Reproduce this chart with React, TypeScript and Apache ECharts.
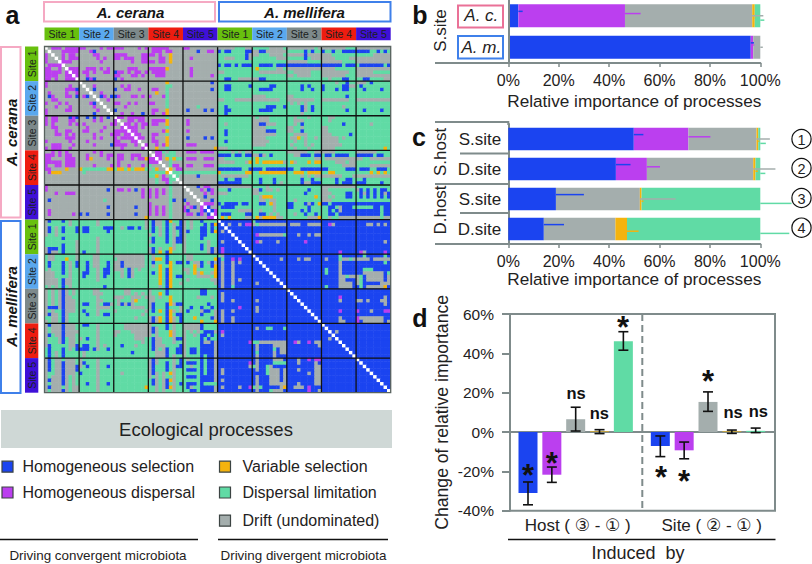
import React, { useEffect, useRef } from "react";
import * as echarts from "echarts";

const FONT = '"Liberation Sans", Arial, sans-serif';
const INK = "#1f2222";
const AXIS = "#7f8b8b";
const SELECTION = "#1b44f0";
const DISPERSAL = "#bb3fef";
const DRIFT = "#a4aead";
const VARIABLE = "#f4b30e";
const LIMITATION = "#60dba5";
const processColors = [SELECTION, DISPERSAL, DRIFT, VARIABLE, LIMITATION];

const speciesNames = ["A. cerana", "A. mellifera"];
const siteNames = ["Site 1", "Site 2", "Site 3", "Site 4", "Site 5"];
const siteColors = ["#68c00e", "#5aa8ee", "#7d898b", "#ee1c10", "#3f10d8"];

// a: pairs inside A. cerana (upper triangle, chunks of ten cells)
const ceranaRows = [
  ".dpppdpppp ppddddpdpp pppddddpdp dpppppdddd ppdddddddd",
  "..dddppppp dddpbddddd dddddddddd dpppdppddd ddddbddppd",
  "...ddpdppd ddddppdddd ppppddddpp ppdpddvddd dddddddddd",
  "....dpdppp dddddpdpdd ppdpppddpp dddppdvddd ddpddddddd",
  ".....pppdd ddddddpddd dddddpddpp ppdppdvddd dddddddddd",
  "......dddd dddddddddd dddddddddd dddddddddd dddddddddd",
  ".......ppp ddpppdpdpd ddddpppddd pppppvdddd ddpddddddd",
  "........pp dppdpddppd bppdpdppdp dppppddddd ddpddddddd",
  ".........p ddpddddddd ppdddppdpd ddpppddddd ddpdddddpd",
  ".......... ddbpbddddd bdpddddddd dddddddddd dddddddddd",
  ".......... .ddddddddd dddddddddd dddddvdddd ddddddddbd",
  ".......... ..ddpddddd ddpdpddddd dddddggddd dddddddddd",
  ".......... ...dbddddd bddppddpdd dppddgdddd ddddddddbd",
  ".......... ....ddpddd dddddddddd ddvddgdddd dddddddddd",
  ".......... .....dbpdb bpdddppdpd pdddpgdddd dddddddddd",
  ".......... ......ddpd dddddddddd dddddgdddd dddddddddd",
  ".......... .......ddd ppddpdpddd ppdddgdddd dddddddddd",
  ".......... ........dd dddpdddddd dddddgdddd ddddgddddd",
  ".......... .........d bddddddddd dppddvdddd dbddddbdbd",
  ".......... .......... ddpddpddbd dpddpvdddd dddddddddd",
  ".......... .......... .ppdpppppd dddddgdddd dddddddddd",
  ".......... .......... ..ddppdppd dppppvdddd dpdddddddd",
  ".......... .......... ...ppdpdpp dppddvdddd dpdddddddd",
  ".......... .......... ....pppdpd dddddgdddd dddddddddd",
  ".......... .......... .....ppddd ddddpvdddd dpdddddddd",
  ".......... .......... ......ppdd dppddgdddd dddddddddd",
  ".......... .......... .......ppd dpdddvdddd dbddddbdbd",
  ".......... .......... ........dd dppddvdddd dddddddddd",
  ".......... .......... .........p ddpdpvdddd dpppdddddd",
  ".......... .......... .......... ddvddgdddd dddddddddv",
  ".......... .......... .......... .dppgdggdd dpppdppppd",
  ".......... .......... .......... ..ppdgggdd dddddddddd",
  ".......... .......... .......... ...pdvgvgg dpppddpppd",
  ".......... .......... .......... ....ddgddd dddddddddd",
  ".......... .......... .......... .....dgppd dppdddpppd",
  ".......... .......... .......... ......vdpp dddddddddd",
  ".......... .......... .......... .......ggg gggggggggg",
  ".......... .......... .......... ........gd ddddbddddd",
  ".......... .......... .......... .........d dddddddddd",
  ".......... .......... .......... .......... dddddddddd",
  ".......... .......... .......... .......... .dddbdppdd",
  ".......... .......... .......... .......... ..dddpdbpd",
  ".......... .......... .......... .......... ...dddpdpd",
  ".......... .......... .......... .......... ....ddbddd",
  ".......... .......... .......... .......... .....dddbd",
  ".......... .......... .......... .......... ......pppd",
  ".......... .......... .......... .......... .......bdd",
  ".......... .......... .......... .......... ........bp",
  ".......... .......... .......... .......... .........p",
  ".......... .......... .......... .......... ..........",
];

// a: pairs between A. cerana (rows) and A. mellifera (columns)
const crossRows = [
  "dddddgggdd gggggddddg ddddddddgd dddddddggg dddddddddd",
  "bgbbggggbb ddbbdddddd gggggbgbgg bggbggbbbb bbbbggbgbg",
  "ggggggggbd ddgggddddg dddddbdddd dddggggggg gggggddddd",
  "ggdddgggbd gggggggddd gggggbgddd ddddggggdd dddddddddd",
  "gggggggggg gggggggggg ddddddgggg ddddddgggg dddddddddd",
  "bgbbgbgbbb ggbbbbgbbb bbbbbbbbbb bbbbbbgbbb gbbbbbbbgb",
  "gggggggggg gvgggggddg dddddddddd ddddgggggg dddddddddd",
  "ddgggggggg ggdddddddd ggdddddggg ddddddddgg dddddggggg",
  "gggggggggg gggggggggg ddgddddggg dddddddggg dddddddddd",
  "ggbbggdddd ddbbgggggg gggggggggg ggdgggbbgg ggbbggggdd",
  "gggggggggg gggggggggg gggggggggg ggggdggbgg dddgbggggg",
  "ggbbgggggb gggggbbggg ggggbgbggg bgggggbbdd gbgggggggg",
  "ggbbgggggg ggbbbbgggg ggggbggbgg bgggbgbbgg ggbggggbgg",
  "gggggggggg gggggggggg gggggggggg gggggggggg gggggggggg",
  "gggggggggg ddddgggggg ddgggggggg gggggggbgg gggggggggg",
  "ddgggddddd ddddddddgg ddddddddgg ddddddddgg dddddddddd",
  "gggggggggg gggggggggg gdgdgdgggg gggggggggg gggggggggg",
  "ggbggggggg ggggbbbggb ggggbdgbgg ggggggdggg gggggggggg",
  "ggbbgggggg ggbbbbgggg ggggbdgbgg gggggggbgg ggbggggbgg",
  "ggbggggggg gggggggggg ggggdggggg gggggggggg gggggggggg",
  "gggggggggg dgdddggggg ggdgggdggg ggddgggggg gggggggggg",
  "gggggggggg dddddggggg ggdddggggg ggdggggggg gggggggggg",
  "ggdggggggg ddbbdddggg ggdgbggggg ggggggbggg ggggdggggg",
  "gggggggggg ddddgggggg ddggdggggg ddgggggggg gggggggggg",
  "ggbggggggg ddddbbbggg ddggbggggg ddgggggggg gggggggggg",
  "ggbggggggg dddddddggg ggddddgggg dddgggggbg gggggggggg",
  "gggggggggg ddddgggggg gddvgdggdg dddddgdggg gggggggggg",
  "ggbggggggg dddddggggg ggdggdgggg dddddggggg gggggggggg",
  "gggggggggg ddddgggggg gdgggdgdgg ddddddgggg gggggggggg",
  "dddggggggg gggggggggg ggdgggdggg ddddgggggg ggggggggvg",
  "ggggdgdgdd gggggggggg ddddddggdd ddddgggggg ddddddgggg",
  "bbbbgbbgbb ddbdgbgggg ggddbbbgbb gbbgbbbbgg bbbbbgbbgg",
  "ddgggggggg gvgggggggg ggggggggdd gddddddddd ddggdddddd",
  "dddddgggdv gvgvvvvvvd gvdgggvgvv ggggdddgdd gggggggggg",
  "gggggggggg gggggggggg gggggggggg ggggggdddd ggggdddddd",
  "bbbbbbbggb bbbgbbbbbb bbggbbbbbb bbgggggbbb gbbbggbbbg",
  "vgggggggvv ggvvvvvvvv ggvvvgvvvv ggvvgggggg ggggvgvgvg",
  "gddddddddg gggggggggg ggggdgdgdd ddddddgggd dddddddddd",
  "ggbggbbggg ggbgggbggg ggggbggbgg ggggbggbbg ggbggggggg",
  "bbbbbbbggg ggbgggbgdg ggggbddbbb ggggbgbbbg bbbggggbgg",
  "dddddddddd ggggdggggg gggggggggg dddddddddd gggggggggg",
  "gggbgggggg ddbgddgdgg ggggggbggg ddgggggggg dbgbgbgbbg",
  "dddggggggg ddgggggggg gggggbgggg dddggggbbg gbdbgbgbdb",
  "gggggggggg ggdvvvgggg ggggggggvg ddgdgggbbg gbgbgbgbgb",
  "gggggggggg ggddgddggg ggdggggggg dddggggggg gggggggggg",
  "bgbbbbgbbg ggbbgvdggg bbgggbdbgv bbgbbbbbbb bbbbbbbbbb",
  "gbbbbggggg ggggggdggg bbggggbggg ggbbgdbbbg gggggbbgbb",
  "ggggggdddd ggdgggdggg ggggbgbggg ggbgbdbbbb bbbbbbbgbb",
  "gbbbggggbb ggbbgdgdgg ggdggbggbg ggbbgbbbbb bbbbbbbgbb",
  "gvgvggggdd gvdvvvvddg ggggggdddv ggdggddddd dddddddgdd",
];

// a: pairs inside A. mellifera (upper triangle)
const melliferaRows = [
  ".bbbbbbbbb gbbbbbbbbb bbbbbbbbbb bbbbbbbbbb bbbbbbbbbb",
  "..bdbbdbpp dgdddddddd bdddbbdddd bbpdbbbbbb bbbddbdbdb",
  "...bbbbbbb bbbbbbbbbb bbbbbbbbbb bbbbbbbbbb bbbbbbbbbb",
  "....bbbbbb bbbbbbbbbb bbbbbbbbbb bbbbbbbbbb bbbbbbbbbb",
  ".....bbbbb bpdddddddg bbbdbbdbdd bbbbbbbbbb bbbbbbbbbb",
  "......bbbb bbbbbbbbbb bbbbbbbbbb bbbbbbbbbb bbbbbbbbbb",
  ".......bbb bpdbbbbdbb bbbbbpbbbb bbbbbbbbbb bbbbbbbbdb",
  "........bb bbbbbbbbbb bbbbbbbbbb bbbbbbbbbb bbbbbbbbbb",
  ".........b bbbbbbbbbb bbbbbbbbbb bbbbbbbbbb bbbbbbbbbb",
  ".......... bbbbbbbbbb bbbbbbbbbb bbbbbpbbbb bpdbbbbbpb",
  ".......... .bbbbbbbbb bbbbbbbbbb bbbbbgbbbb bbgbbbbbgb",
  ".......... ..bbbbbbdb bbbdbddbbb bdbbbgddgd ddddbddddd",
  ".......... ...bbbbbbb bbbbbbbbbb bbbbbdbbbb bbbbbbbbgb",
  ".......... ....bbbbbb bbbbbbbbbb bbbbbdbbbb bbbbbbbbbb",
  ".......... .....bbbbb bbbbbbbbbb bgbbbdbbbb bbgggbbbbb",
  ".......... ......bbbb bbbbbbbbbb bgbbbdbbbb bbddddddbg",
  ".......... .......bbb bbbbbbbbbb bbbbbddgdd dgbdddddbd",
  ".......... ........bb bbbbbbbbbb bbbbbddbbb dgbdddddbd",
  ".......... .........b bbbbbbbbbb bbbbbddddb dgbbbbbddd",
  ".......... .......... bbbbbbbbbb bgbbbddddb bgbdddddvb",
  ".......... .......... .bbbbbbbbb bbbbbbbbbb bbbbbbbbbb",
  ".......... .......... ..bbbbbbbb bbbbbbbbbb bbbbbbbbbb",
  ".......... .......... ...bbbbbbb bbbbbpbbbb bbbbbbbbdb",
  ".......... .......... ....bbbbbb bbbbbdbbbb ddbdbbbddb",
  ".......... .......... .....bbbbb bbbbbbbbbb bbbbbbbbdb",
  ".......... .......... ......bbbb bbbbbbbbbb bbbbbbbbbb",
  ".......... .......... .......bbb bbbbbpbbbb pbbbdbbbpp",
  ".......... .......... ........bb bbbbbbbbbb bbbbbbbbbb",
  ".......... .......... .........b bbbbbdbbbb pdddddddbb",
  ".......... .......... .......... bbbbbddbbb pbddddddbd",
  ".......... .......... .......... .bbbbbbbbb bbbbbbbbbb",
  ".......... .......... .......... ..bbbbbbbb bbbbbbbbbb",
  ".......... .......... .......... ...bdbbbbb bbbbbbbbbb",
  ".......... .......... .......... ....bbbbbb bbbbbbbbbb",
  ".......... .......... .......... .....bbbbb bbbbbbbbbb",
  ".......... .......... .......... ......bbbb bbbbbbbbbb",
  ".......... .......... .......... .......bbb bbbbbbbbbb",
  ".......... .......... .......... ........bb bbbbbbbbbb",
  ".......... .......... .......... .........b bbbbbbbbbb",
  ".......... .......... .......... .......... bbbbbbbbbb",
  ".......... .......... .......... .......... .bbbbbbbbb",
  ".......... .......... .......... .......... ..bbbbbbbb",
  ".......... .......... .......... .......... ...bbbbbbb",
  ".......... .......... .......... .......... ....bbbbbb",
  ".......... .......... .......... .......... .....bbbbb",
  ".......... .......... .......... .......... ......bbbb",
  ".......... .......... .......... .......... .......bbb",
  ".......... .......... .......... .......... ........bb",
  ".......... .......... .......... .......... .........b",
  ".......... .......... .......... .......... ..........",
];

const cellCodes = ["b", "p", "v", "g", "d"];
const cellColors = [SELECTION, DISPERSAL, VARIABLE, LIMITATION, DRIFT, "#ffffff"];

// b
const bRows = ["A. c.", "A. m."];
const bSelection = [4, 96.2];
const bDispersal = [42.3, 1];
const bDrift = [50.5, 2.8];
const bVariable = [1, 0];
const bLimitation = [2.2, 0];
const bTips = [
  [5.7, 52.5, 101.2, 98, 101.6],
  [97.5, 97.6, 101, null, null],
];

// c
const cRows = ["S.site", "D.site", "S.site", "D.site"];
const cSelection = [49.8, 42.7, 18.9, 14.1];
const cDispersal = [21.7, 12.3, 0, 0];
const cDrift = [27, 42.2, 33.3, 28.4];
const cVariable = [0.7, 0.9, 0.7, 4.6];
const cLimitation = [0.8, 1.9, 47.1, 52.9];
const cTips = [
  [53.6, 80.2, 103.8, 99.6, 102.2],
  [48.5, 60.2, 106, 99, 102],
  [30, null, 66.4, 53.6, 112.4],
  [22.1, null, null, 51.7, 111.5],
];

// d
const hostChange = [-31, -21.7, 6.5, 0.3, 46.2];
const hostLow = [-37, -25.6, 0.5, -0.8, 41.6];
const hostHigh = [-25.4, -17.8, 12.6, 1.2, 51];
const siteChange = [-7.1, -9.3, 15.3, 0.3, 0.6];
const siteLow = [-12.5, -13.6, 10.5, -0.7, -0.3];
const siteHigh = [-2, -5.1, 20.4, 1, 2];

const legendLeft = ["Homogeneous selection", "Homogeneous dispersal"];
const legendRight = ["Variable selection", "Dispersal limitation", "Drift (undominated)"];
const percentTick = (v: number) => `${v}%`;

function buildCells() {
  const clean = (rows: string[]) => rows.map((r) => r.replace(/ /g, ""));
  const cc = clean(ceranaRows);
  const cm = clean(crossRows);
  const mm = clean(melliferaRows);
  const read = (r: number, c: number) => {
    if (r === c) return 5;
    const a = Math.min(r, c);
    const b = Math.max(r, c);
    let ch = "d";
    if (b < 50) ch = cc[a][b];
    else if (a < 50) ch = cm[a][b - 50];
    else ch = mm[a - 50][b - 50];
    return cellCodes.indexOf(ch);
  };
  const out: number[][] = [];
  for (let r = 0; r < 100; r++) for (let c = 0; c < 100; c++) out.push([c, r, read(r, c)]);
  return out;
}

function errorSeries(xi: number, yi: number, shares: number[][], tips: (number | null)[][]) {
  const data: number[][] = [];
  tips.forEach((row, r) => {
    let end = 0;
    row.forEach((tip, p) => {
      end += shares[p][r];
      if (tip !== null) data.push([end, tip, r, p]);
    });
  });
  return {
    type: "custom",
    xAxisIndex: xi,
    yAxisIndex: yi,
    silent: true,
    z: 5,
    clip: false,
    data,
    encode: { x: [0, 1], y: 2 },
    renderItem: (_: unknown, api: any) => {
      const a = api.coord([api.value(0), api.value(2)]);
      const b = api.coord([api.value(1), api.value(2)]);
      const p = api.value(3);
      const off = (p - 2) * 2.2;
      return {
        type: "line",
        shape: { x1: a[0], y1: a[1] + off, x2: b[0], y2: b[1] + off },
        style: { stroke: processColors[p], lineWidth: 1.5 },
      };
    },
  };
}

function whisker(xi: number, yi: number, positions: number[], low: number[], high: number[]) {
  return {
    type: "custom",
    xAxisIndex: xi,
    yAxisIndex: yi,
    silent: true,
    z: 6,
    data: positions.map((x, i) => [x, low[i], high[i]]),
    encode: { x: 0, y: [1, 2] },
    renderItem: (_: unknown, api: any) => {
      const a = api.coord([api.value(0), api.value(1)]);
      const b = api.coord([api.value(0), api.value(2)]);
      const s = { stroke: "#111", lineWidth: 1.6 };
      const cap = 5;
      return {
        type: "group",
        children: [
          { type: "line", shape: { x1: a[0], y1: a[1], x2: b[0], y2: b[1] }, style: s },
          { type: "line", shape: { x1: a[0] - cap, y1: a[1], x2: a[0] + cap, y2: a[1] }, style: s },
          { type: "line", shape: { x1: b[0] - cap, y1: b[1], x2: b[0] + cap, y2: b[1] }, style: s },
        ],
      };
    },
  };
}

const line = (x1: number, y1: number, x2: number, y2: number, stroke = AXIS, lineWidth = 2, extra: any = {}) => ({
  type: "line",
  z: 20,
  silent: true,
  shape: { x1, y1, x2, y2 },
  style: { stroke, lineWidth, ...extra },
});

const text = (t: string, x: number, y: number, size: number, opts: any = {}) => {
  const { rotation, fill, align, family, ...font } = opts;
  return {
    type: "text",
    z: 21,
    silent: true,
    x,
    y,
    rotation: rotation || 0,
    style: {
      text: t,
      x: 0,
      y: 0,
      fill: fill || INK,
      fontSize: size,
      fontFamily: family || FONT,
      align: align || "center",
      verticalAlign: "middle",
      ...font,
    },
  };
};

const box = (x: number, y: number, width: number, height: number, stroke: string, lineWidth = 2, fill = "#fff") => ({
  type: "rect",
  z: 19,
  silent: true,
  shape: { x, y, width, height },
  style: { fill, stroke, lineWidth },
});

function buildGraphics() {
  const g: any[] = [];
  const HX = 44.5;
  const HY = 46.5;
  const BLOCK = 34.62;
  const letter = { fontWeight: "bold", fill: "#111" };
  g.push(text("a", 12.5, 15, 25, letter));
  g.push(text("b", 420, 15, 25, letter));
  g.push(text("c", 419, 137, 25, letter));
  g.push(text("d", 420, 318, 25, letter));

  // panel a species frames
  const pink = "#f5a9c3";
  const blue = "#3f80ea";
  g.push(box(44, 2, 171, 19.5, pink));
  g.push(box(219, 2, 171.5, 19.5, blue));
  g.push(box(1, 47, 19.5, 170.5, pink));
  g.push(box(1, 221, 19.5, 172, blue));
  speciesNames.forEach((n, i) => {
    const fnt = { fontWeight: "bold", fontStyle: "italic", fill: "#151515" };
    g.push(text(n, i === 0 ? 130.5 : 304.5, 12, 15, fnt));
    g.push(text(n, 11, i === 0 ? 132.5 : 306.5, 15, { ...fnt, rotation: Math.PI / 2 }));
  });
  for (let i = 0; i < 10; i++) {
    const k = i % 5;
    g.push({ type: "rect", z: 18, silent: true, shape: { x: HX + i * BLOCK, y: 27.5, width: BLOCK, height: 12.7 }, style: { fill: siteColors[k] } });
    g.push(text(siteNames[k], HX + (i + 0.5) * BLOCK, 33.8, 10.5, { fill: "#1a2020" }));
    g.push({ type: "rect", z: 18, silent: true, shape: { x: 25, y: HY + i * BLOCK, width: 13.3, height: BLOCK }, style: { fill: siteColors[k] } });
    g.push(text(siteNames[k], 31.6, HY + (i + 0.5) * BLOCK, 10.5, { fill: "#1a2020", rotation: Math.PI / 2 }));
  }
  for (let i = 1; i < 10; i++) {
    g.push(line(HX + i * BLOCK, HY, HX + i * BLOCK, HY + 10 * BLOCK, "#111", 1.3));
    g.push(line(HX, HY + i * BLOCK, HX + 10 * BLOCK, HY + i * BLOCK, "#111", 1.3));
  }
  g.push({ type: "rect", z: 20, silent: true, shape: { x: HX, y: HY, width: 10 * BLOCK, height: 10 * BLOCK }, style: { fill: "none", stroke: "#59635f", lineWidth: 1.3 } });

  // legend
  g.push({ type: "rect", z: 18, silent: true, shape: { x: 1, y: 410, width: 391, height: 38 }, style: { fill: "#cfd8d6" } });
  g.push(text("Ecological processes", 206, 429, 18.5));
  const swatch = (x: number, y: number, fill: string) => box(x, y - 5.5, 11, 11, "#3c4443", 1.2, fill);
  legendLeft.forEach((n, i) => {
    const y = i === 0 ? 466.7 : 492.5;
    g.push(swatch(2, y, processColors[i]));
    g.push(text(n, 22.5, y, 16, { align: "left" }));
  });
  [VARIABLE, LIMITATION, DRIFT].forEach((c, i) => {
    const y = [466.7, 492.5, 520.7][i];
    g.push(swatch(219.5, y, c));
    g.push(text(legendRight[i], 242.5, y, 16, { align: "left" }));
  });
  g.push(line(0, 539.5, 198, 539.5, "#111", 1.6));
  g.push(line(218, 539.5, 388, 539.5, "#111", 1.6));
  g.push(text("Driving convergent microbiota", 98, 555, 13.4));
  g.push(text("Driving divergent microbiota", 303.5, 555, 13.4));

  // panel b frame
  g.push(line(435, 63, 508, 63));
  g.push(text("S.site", 440, 30.5, 17, { rotation: Math.PI / 2 }));
  g.push(box(458, 5.5, 45, 22, "#ea7197"));
  g.push(box(458, 36, 45, 22.5, "#3f80ea"));

  // panel c frame
  g.push(line(435, 122, 509, 122));
  g.push(line(508.3, 121, 508.3, 125));
  g.push(line(435, 244, 508, 244));
  g.push(line(460, 153.5, 508, 153.5));
  g.push(line(435, 184, 508, 184));
  g.push(line(460, 213, 508, 213));
  g.push(text("S.host", 440.5, 152, 17, { rotation: Math.PI / 2 }));
  g.push(text("D.host", 440.5, 210, 17, { rotation: Math.PI / 2 }));
  [139, 168, 198, 227.7].forEach((y, i) => {
    g.push({ type: "circle", z: 20, silent: true, shape: { cx: 801.5, cy: y, r: 9.6 }, style: { fill: "#fff", stroke: "#111", lineWidth: 1.2 } });
    g.push(text(String(i + 1), 801.5, y + 0.5, 14.5));
  });

  // panel d furniture
  const mixed = '"Liberation Sans", "DejaVu Sans", sans-serif';
  g.push(line(642.3, 314, 642.3, 511, AXIS, 2, { lineDash: [7, 4] }));
  g.push(text("Host ( ③ - ① )", 577.7, 525.5, 17, { family: mixed }));
  g.push(text("Site ( ② - ① )", 711.7, 525.5, 17, { family: mixed }));
  g.push(line(508, 539.5, 775.5, 539.5, "#111", 1.6));
  g.push(text("Induced  by", 638, 553, 18));
  const star = { fontWeight: "bold", fill: "#111" };
  [[528, 475], [551.7, 463], [623, 327.5], [661, 477], [684, 481.5], [708, 381.5]].forEach(([x, y]) => g.push(text("*", x, y, 31, star)));
  [[576, 393], [599.3, 413], [733, 411.7], [758.3, 410.7]].forEach(([x, y]) => g.push(text("ns", x, y, 16.5, star)));
  return g;
}

function stacked(xi: number, yi: number, shares: number[][], barWidth: number, stack: string) {
  return shares.map((values, p) => ({
    type: "bar",
    xAxisIndex: xi,
    yAxisIndex: yi,
    stack,
    barWidth,
    silent: true,
    data: values,
    itemStyle: { color: processColors[p] },
  }));
}

const pctXAxis = (gridIndex: number, nameGap: number) => ({
  type: "value",
  gridIndex,
  min: 0,
  max: 100,
  interval: 20,
  name: "Relative importance of processes",
  nameLocation: "middle",
  nameGap,
  nameTextStyle: { fontSize: 17.2, color: INK, fontFamily: FONT },
  splitLine: { show: false },
  axisLine: { show: true, lineStyle: { color: AXIS, width: 2 } },
  axisTick: { show: true, length: 4, lineStyle: { color: AXIS, width: 1.5 } },
  axisLabel: { formatter: percentTick, fontSize: 16, color: INK, fontFamily: FONT, margin: 9 },
});

export default function App() {
  const ref = useRef<HTMLDivElement>(null);
  useEffect(() => {
    if (!ref.current) return;
    const chart = echarts.init(ref.current, undefined, { renderer: "svg" });
    const bShares = [bSelection, bDispersal, bDrift, bVariable, bLimitation];
    const cShares = [cSelection, cDispersal, cDrift, cVariable, cLimitation];
    const hostX = hostChange.map((_, i) => i + 1);
    const siteX = siteChange.map((_, i) => i + 6.55);
    const cellAxis = Array.from({ length: 100 }, (_, i) => String(i));
    const option: any = {
      animation: false,
      backgroundColor: "#fff",
      textStyle: { fontFamily: FONT },
      grid: [
        { left: 44.5, top: 46.5, width: 346.2, height: 346.2, containLabel: false },
        { left: 508.3, top: 0, width: 252, height: 63, containLabel: false },
        { left: 508.3, top: 124, width: 252, height: 120, containLabel: false },
        { left: 510, top: 314, width: 265, height: 196.7, show: true, borderColor: AXIS, borderWidth: 2, containLabel: false },
      ],
      xAxis: [
        { type: "category", gridIndex: 0, data: cellAxis, show: false },
        pctXAxis(1, 29),
        pctXAxis(2, 26),
        {
          type: "value",
          gridIndex: 3,
          min: 0.245,
          max: 11.36,
          axisLine: { show: true, onZero: true, lineStyle: { color: AXIS, width: 2 } },
          axisTick: { show: false },
          axisLabel: { show: false },
          splitLine: { show: false },
        },
      ],
      yAxis: [
        { type: "category", gridIndex: 0, data: cellAxis, inverse: true, show: false },
        {
          type: "category",
          gridIndex: 1,
          data: bRows,
          inverse: true,
          axisLine: { show: true, lineStyle: { color: AXIS, width: 2 } },
          axisTick: { show: false },
          z: 30,
          axisLabel: { fontSize: 17, fontStyle: "italic", color: INK, fontFamily: FONT, margin: 27, align: "center" },
        },
        {
          type: "category",
          gridIndex: 2,
          data: cRows,
          inverse: true,
          axisLine: { show: true, lineStyle: { color: AXIS, width: 2 } },
          axisTick: { show: false },
          axisLabel: { fontSize: 17, color: INK, fontFamily: FONT, margin: 7 },
        },
        {
          type: "value",
          gridIndex: 3,
          min: -40,
          max: 60,
          interval: 20,
          name: "Change of relative importance",
          nameLocation: "middle",
          nameGap: 59,
          nameTextStyle: { fontSize: 17.6, color: INK, fontFamily: FONT },
          splitLine: { show: false },
          axisLine: { show: true, onZero: false, lineStyle: { color: AXIS, width: 2 } },
          axisTick: { show: true, length: 8, lineStyle: { color: AXIS, width: 2 } },
          axisLabel: { formatter: percentTick, fontSize: 15.5, color: INK, fontFamily: FONT, margin: 16 },
        },
      ],
      visualMap: {
        show: false,
        type: "piecewise",
        seriesIndex: 0,
        dimension: 2,
        pieces: cellColors.map((color, value) => ({ value, color })),
      },
      series: [
        { type: "heatmap", xAxisIndex: 0, yAxisIndex: 0, silent: true, progressive: 0, data: buildCells(), itemStyle: { borderWidth: 0 } },
        ...stacked(1, 1, bShares, 23, "b"),
        errorSeries(1, 1, bShares, bTips),
        ...stacked(2, 2, cShares, 22.5, "c"),
        errorSeries(2, 2, cShares, cTips),
        {
          type: "bar",
          xAxisIndex: 3,
          yAxisIndex: 3,
          barWidth: 19,
          silent: true,
          data: hostChange.map((v, i) => ({ value: [hostX[i], v], itemStyle: { color: processColors[i] } })),
        },
        {
          type: "bar",
          xAxisIndex: 3,
          yAxisIndex: 3,
          barWidth: 19,
          barGap: "-100%",
          silent: true,
          data: siteChange.map((v, i) => ({ value: [siteX[i], v], itemStyle: { color: processColors[i] } })),
        },
        whisker(3, 3, hostX, hostLow, hostHigh),
        whisker(3, 3, siteX, siteLow, siteHigh),
      ],
      graphic: { elements: buildGraphics() },
    };
    chart.setOption(option);
    return () => chart.dispose();
  }, []);
  return <div ref={ref} style={{ position: "absolute", left: 0, top: 0, width: 812, height: 564 }} />;
}
